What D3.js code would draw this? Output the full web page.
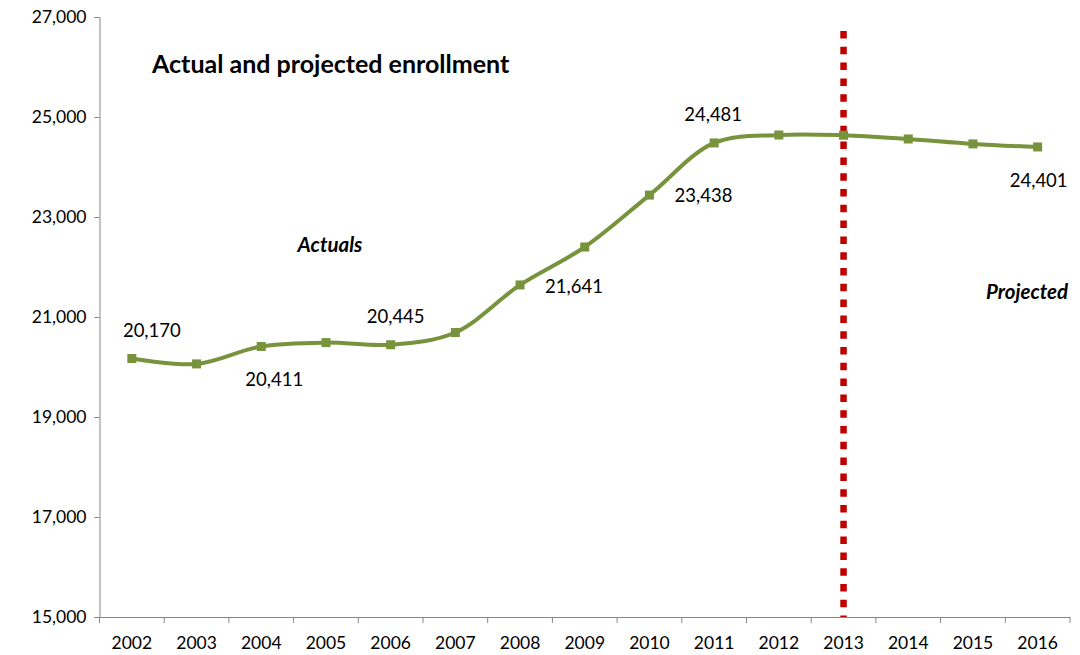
<!DOCTYPE html>
<html>
<head>
<meta charset="utf-8">
<script src="https://cdn.jsdelivr.net/npm/d3@7"></script>
<style>
  html, body { margin: 0; padding: 0; background: #fff; }
  svg { display: block; font-family: Lato, "Open Sans", sans-serif; }
</style>
</head>
<body>
<svg id="chart" width="1080" height="655"></svg>
<script>
// ---- data ----
const years = ["2002","2003","2004","2005","2006","2007","2008","2009","2010","2011","2012","2013","2014","2015","2016"];
const enrollment = [20170, 20062, 20411, 20488, 20445, 20690, 21641, 22400, 23438, 24481, 24640, 24635, 24560, 24462, 24401];
const yTicks = [15000, 17000, 19000, 21000, 23000, 25000, 27000];
const labeledYears = ["2002","2004","2006","2008","2010","2011","2016"];
const labelPlacement = ["above","below","above","right-below","right","above","below"];
const dividerYear = "2013";
const dividerRange = [15000, 26720];
const titleText = "Actual and projected enrollment";
const actualsText = "Actuals";
const projectedText = "Projected";

// ---- layout ----
const mLeft = 99.5, mRight = 1070, mTop = 17, mBottom = 617;
const svg = d3.select("#chart");

const x = d3.scaleBand().domain(years).range([mLeft, mRight]).padding(0);
const y = d3.scaleLinear().domain([15000, 27000]).range([mBottom, mTop]);
const cx = d => x(d) + x.bandwidth() / 2;

const axisColor = "#868686";
const green = "#77933C";

// y axis
const yAxis = svg.append("g").attr("transform", `translate(${mLeft},0)`)
  .call(d3.axisLeft(y).tickValues(yTicks).tickSize(5).tickPadding(8)
    .tickFormat(d3.format(",")));
yAxis.select(".domain").attr("stroke", axisColor);
yAxis.selectAll(".tick line").attr("stroke", axisColor);
yAxis.selectAll("text").attr("font-size", 17.5).attr("fill", "#000")
  .attr("font-family", "Lato, sans-serif");

// x axis with ticks between categories
const xAxis = svg.append("g").attr("transform", `translate(0,${mBottom})`)
  .call(d3.axisBottom(x).tickSize(0).tickPadding(20));
xAxis.select(".domain").attr("stroke", axisColor);
xAxis.selectAll("text").attr("font-size", 17.5).attr("fill", "#000")
  .attr("font-family", "Lato, sans-serif");
const boundaries = years.map(d => x(d)).concat([x(years[years.length - 1]) + x.bandwidth()]);
xAxis.selectAll(".bnd").data(boundaries).enter().append("line")
  .attr("x1", d => d).attr("x2", d => d).attr("y1", 0).attr("y2", 6)
  .attr("stroke", axisColor);

// divider
svg.append("line")
  .attr("x1", cx(dividerYear)).attr("x2", cx(dividerYear))
  .attr("y1", y(dividerRange[1])).attr("y2", y(dividerRange[0]))
  .attr("stroke", "#C00000").attr("stroke-width", 6.5)
  .attr("stroke-dasharray", "7.5 8.3");

// line
const data = years.map((d, i) => ({ year: d, value: enrollment[i] }));
const line = d3.line().x(d => cx(d.year)).y(d => y(d.value)).curve(d3.curveCatmullRom.alpha(0.5));
svg.append("path").datum(data).attr("d", line)
  .attr("fill", "none").attr("stroke", green).attr("stroke-width", 4);

svg.selectAll(".mk").data(data).enter().append("rect")
  .attr("x", d => cx(d.year) - 4.5).attr("y", d => y(d.value) - 4.5)
  .attr("width", 9).attr("height", 9).attr("fill", green);

// data labels
labeledYears.forEach((yr, i) => {
  const idx = years.indexOf(yr);
  const px = cx(yr), py = y(enrollment[idx]);
  let lx = px, ly = py;
  switch (labelPlacement[i]) {
    case "above": lx = px + (idx === 0 ? 20 : idx === 9 ? -1 : 5); ly = py - 22; break;
    case "below": lx = px + (idx === 14 ? 1 : 13); ly = py + 40; break;
    case "right-below": lx = px + 54; ly = py + 8; break;
    case "right": lx = px + 54; ly = py + 7; break;
  }
  svg.append("text").attr("x", lx).attr("y", ly).attr("text-anchor", "middle")
    .attr("font-size", 18.5).attr("fill", "#000")
    .text(d3.format(",")(enrollment[idx]));
});

// title & annotations
svg.append("text").attr("x", 152).attr("y", 73).attr("font-size", 25)
  .attr("font-weight", "bold").attr("fill", "#000").text(titleText);
svg.append("text").attr("x", 330).attr("y", 252).attr("text-anchor", "middle")
  .attr("font-size", 20.5).attr("font-weight", "bold").attr("font-style", "italic")
  .attr("fill", "#000").text(actualsText);
svg.append("text").attr("x", 1027).attr("y", 299).attr("text-anchor", "middle")
  .attr("font-size", 20.5).attr("font-weight", "bold").attr("font-style", "italic")
  .attr("fill", "#000").text(projectedText);
</script>
</body>
</html>
